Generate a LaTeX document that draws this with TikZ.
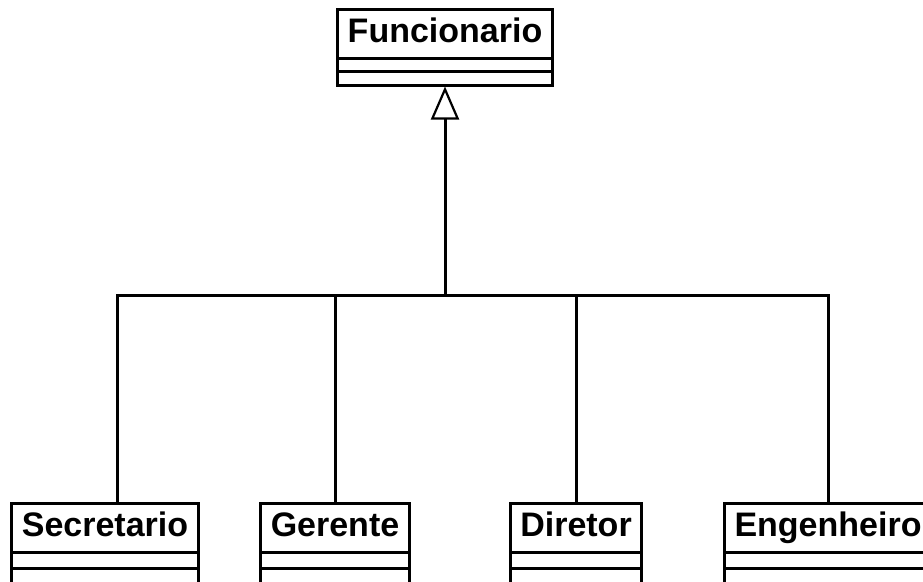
\documentclass[tikz,border=0pt]{standalone}
\usepackage{fontspec}
\setmainfont{Liberation Sans}
\usetikzlibrary{arrows.meta}
\tikzset{
every picture/.style={line width=3pt, x=1pt, y=-1pt},
%%%%%%%%%%  Node styles
classname/.style={draw, rectangle, outer sep=0, inner xsep=10pt,
                  minimum height=49pt, text height=24pt, text depth=6pt,
                  font=\bfseries\fontsize{34}{40}\selectfont},
%%%% different line styles:
inherit/.style={-{Triangle[open,line width=2.2pt,length=33pt,width=28pt]}},
bus/.style={line join=miter}
}

\begin{document}
\begin{tikzpicture}
\useasboundingbox (0,0) rectangle (923,581);
%%%% superclass
\node[classname] (func) at (445,33.5) {Funcionario};
\draw (func.south west) rectangle ([yshift=-13pt]func.south east);
\draw ([yshift=-13pt]func.south west) rectangle ([yshift=-27pt]func.south east)
      coordinate (funcOps);
\coordinate (funcBase) at (func.south |- funcOps);
%%%% subclasses
\node[classname] (sec) at (105,527.5) {Secretario};
\draw (sec.south west) rectangle ([yshift=-16.5pt]sec.south east);
\draw ([yshift=-16.5pt]sec.south west) rectangle ([yshift=-31pt]sec.south east);
\node[classname] (ger) at (335,527.5) {Gerente};
\draw (ger.south west) rectangle ([yshift=-16.5pt]ger.south east);
\draw ([yshift=-16.5pt]ger.south west) rectangle ([yshift=-31pt]ger.south east);
\node[classname] (dir) at (576,527.5) {Diretor};
\draw (dir.south west) rectangle ([yshift=-16.5pt]dir.south east);
\draw ([yshift=-16.5pt]dir.south west) rectangle ([yshift=-31pt]dir.south east);
\node[classname] (eng) at (828,527.5) {Engenheiro};
\draw (eng.south west) rectangle ([yshift=-16.5pt]eng.south east);
\draw ([yshift=-16.5pt]eng.south west) rectangle ([yshift=-31pt]eng.south east);
%%%% generalisation tree
\coordinate (hub) at (445,295);
\draw[inherit] (hub) -- ([yshift=-1.5pt]funcBase);
\draw[bus] ([xshift=12pt]sec.north) |- (hub) -| (eng.north);
\draw (ger.north) -- (ger.north |- hub);
\draw (dir.north) -- (dir.north |- hub);
\end{tikzpicture}
\end{document}
